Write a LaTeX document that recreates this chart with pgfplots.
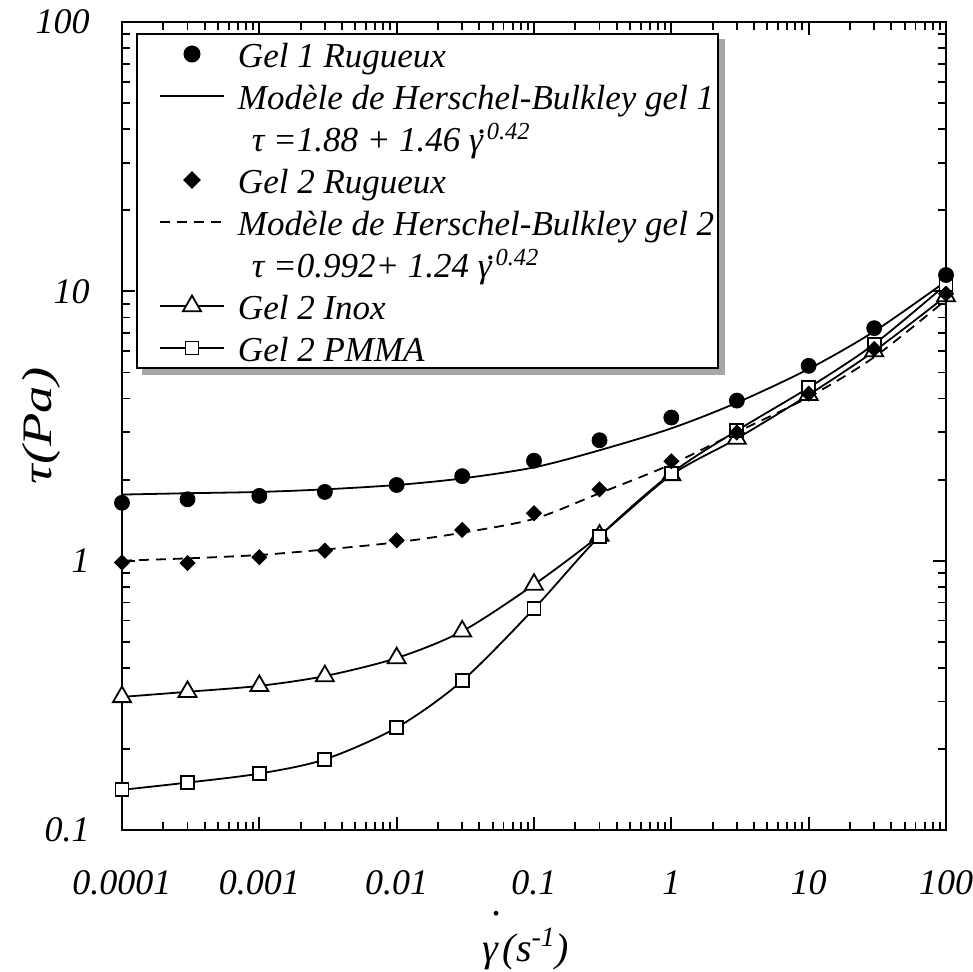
\documentclass[border=0pt]{standalone}
\usepackage{fontspec}
\setmainfont{Liberation Serif}
\usepackage{pgfplots}
\pgfplotsset{compat=1.18}
\usetikzlibrary{backgrounds}

\newcommand{\gdot}[1]{\ooalign{γ\cr\kern0.25em\raisebox{#1}{.}\cr}}

\pgfplotsset{myleg/.style={legend image code/.code={\path (-10.5pt,0pt); \path (37pt,0pt); \draw[mark repeat=2,mark phase=2,##1] plot coordinates {(0pt,0pt) (16pt,0pt) (32pt,0pt)};}}}

\begin{document}
\begin{tikzpicture}
\path[use as bounding box] (-61pt,-70.5pt) rectangle (425.5pt,415pt);
\begin{axis}[
  at={(0,0)}, anchor=south west,
  scale only axis, width=412pt, height=404pt,
  xmode=log, ymode=log,
  xmin=1e-4, xmax=100, ymin=0.1, ymax=100,
  xtick={1e-4,1e-3,0.01,0.1,1,10,100},
  xticklabels={0.0001,0.001,0.01,0.1,1,10,100},
  ytick={0.1,1,10,100},
  yticklabels={0.1,1,10,100},
  /pgf/number format/assume math mode=true,
  tick align=inside, xtick pos=both, ytick pos=both,
  major tick length=6.5pt, minor tick length=4pt,
  every tick/.style={black, line width=0.9pt},
  axis line style={line width=1pt},
  tick label style={font=\fontsize{18}{18}\selectfont\itshape},
  xticklabel style={anchor=center, inner sep=0pt, yshift=-26.5pt},
  yticklabel style={anchor=east, inner sep=0pt, xshift=-16pt},
  xlabel={\gdot{1.15em}(s\textsuperscript{-1})},
  ylabel={\scalebox{1.3}[1]{τ(Pa)}},
  xlabel style={font=\fontsize{20}{20}\selectfont\itshape, at={(axis description cs:0.4903,-0.163)}, anchor=base},
  ylabel style={font=\fontsize{21}{21}\selectfont\itshape, at={(axis description cs:-0.0983,0.5)}, anchor=center},
  legend style={name=leg, at={(axis description cs:0,1)}, anchor=north west, xshift=7pt, yshift=-5.5pt,
    draw=black, line width=1pt, fill=white,
    font=\fontsize{17.5}{17.5}\selectfont\itshape,
    inner xsep=0.5pt, inner ysep=2.5pt, row sep=6pt,
    nodes={inner xsep=1.5pt, inner ysep=0pt, text height=14.3pt, text depth=0.7pt}},
  legend cell align=left,
]
\addlegendimage{myleg, only marks, mark=*, black, mark size=3.75pt}
\addlegendentry{Gel 1 Rugueux}
\addlegendimage{myleg, black, line width=0.9pt}
\addlegendentry{Modèle de Herschel-Bulkley gel 1}
\addlegendimage{empty legend}
\addlegendentry{\hspace{7pt}τ =1.88 + 1.46 \gdot{0.52em}\textsuperscript{0.42}}
\addlegendimage{myleg, only marks, mark=square*, mark options={rotate=45}, black, mark size=2.65pt}
\addlegendentry{Gel 2 Rugueux}
\addlegendimage{myleg, black, line width=0.9pt, dash pattern=on 5pt off 3.5pt}
\addlegendentry{Modèle de Herschel-Bulkley gel 2}
\addlegendimage{empty legend}
\addlegendentry{\hspace{7pt}τ =0.992+ 1.24 \gdot{0.52em}\textsuperscript{0.42}}
\addlegendimage{myleg, black, line width=0.9pt, mark=triangle*, mark size=5.2pt, mark options={fill=white, solid}}
\addlegendentry{Gel 2 Inox}
\addlegendimage{myleg, black, line width=0.9pt, mark=square*, mark size=3.25pt, mark options={fill=white, solid}}
\addlegendentry{Gel 2 PMMA}

% Model 1
\addplot[forget plot, black, line width=0.9pt, smooth] coordinates {
(1e-4,1.76)(3e-4,1.78)(1e-3,1.80)(3e-3,1.84)(1e-2,1.91)(3e-2,2.02)(0.1,2.22)(0.3,2.57)(1,3.10)(3,3.86)(10,5.15)(30,7.1)(100,10.9)};
% Model 2
\addplot[forget plot, black, line width=0.9pt, smooth, dash pattern=on 5pt off 3.5pt] coordinates {
(1e-4,1.0)(3e-4,1.02)(1e-3,1.05)(3e-3,1.10)(1e-2,1.17)(3e-2,1.27)(0.1,1.43)(0.3,1.78)(1,2.28)(3,3.0)(10,4.05)(30,5.7)(100,9.3)};
% Gel 2 Inox
\addplot[forget plot, black, line width=0.9pt, smooth, mark=triangle*, mark size=5.2pt, mark options={fill=white, solid}] coordinates {
(1e-4,0.312)(3e-4,0.326)(1e-3,0.343)(3e-3,0.373)(1e-2,0.435)(3e-2,0.547)(0.1,0.815)(0.3,1.24)(1,2.08)(3,2.84)(10,4.13)(30,6.0)(100,9.6)};
% Gel 2 PMMA
\addplot[forget plot, black, line width=0.9pt, smooth, mark=square*, mark size=3.25pt, mark options={fill=white, solid}] coordinates {
(1e-4,0.141)(3e-4,0.150)(1e-3,0.162)(3e-3,0.183)(1e-2,0.240)(3e-2,0.358)(0.1,0.663)(0.3,1.23)(1,2.11)(3,3.04)(10,4.39)(30,6.37)(100,10.6)};
% Gel 2 Rugueux
\addplot[forget plot, only marks, black, mark=square*, mark options={rotate=45}, mark size=2.65pt] coordinates {
(1e-4,0.985)(3e-4,0.98)(1e-3,1.03)(3e-3,1.09)(1e-2,1.19)(3e-2,1.30)(0.1,1.50)(0.3,1.84)(1,2.34)(3,2.99)(10,4.17)(30,6.11)(100,9.8)};
% Gel 1 Rugueux
\addplot[forget plot, only marks, black, mark=*, mark size=3.75pt] coordinates {
(1e-4,1.64)(3e-4,1.69)(1e-3,1.74)(3e-3,1.80)(1e-2,1.91)(3e-2,2.06)(0.1,2.35)(0.3,2.80)(1,3.40)(3,3.93)(10,5.29)(30,7.30)(100,11.5)};
\end{axis}
\begin{scope}[on background layer]
\fill[black!35] ([xshift=3pt,yshift=-3pt]leg.south west) rectangle ([xshift=3pt,yshift=-3pt]leg.north east);
\end{scope}
\end{tikzpicture}
\end{document}
